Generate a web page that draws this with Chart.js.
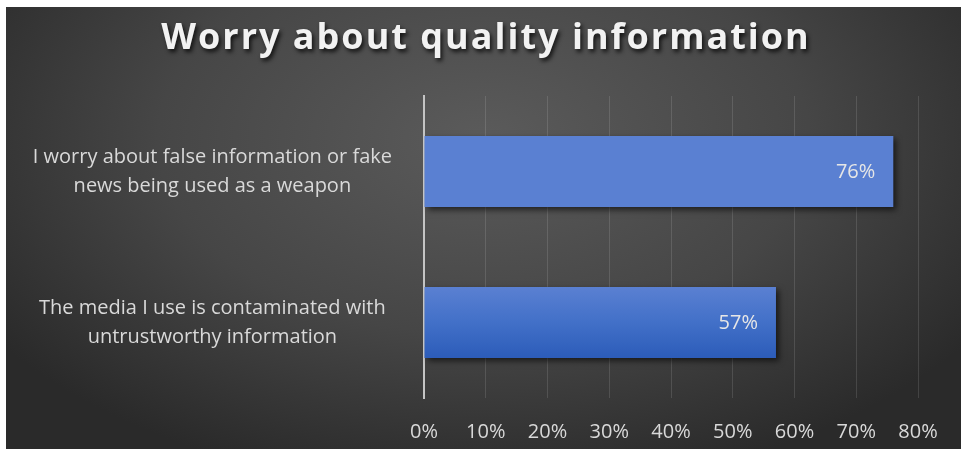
<!DOCTYPE html>
<html>
<head>
<meta charset="utf-8">
<script src="https://cdn.jsdelivr.net/npm/chart.js@4.4.1/dist/chart.umd.min.js"></script>
<style>
  html, body { margin: 0; padding: 0; background: #fff; }
  #frame {
    position: absolute;
    left: 6px; top: 7px;
    width: 955px; height: 442px;
    background: radial-gradient(ellipse 62% 80% at 50% 30%, #5b5b5b 0%, #464646 55%, #2a2a2a 100%);
  }
</style>
</head>
<body>
<div id="frame"><canvas id="chart" width="955" height="442"></canvas></div>
<script>
const chartTitle = 'Worry about quality information';
const categories = [
    ['I worry about false information or fake', 'news being used as a weapon'],
    ['The media I use is contaminated with', 'untrustworthy information']
];
const shares = [76, 57];
const xTicks = [0, 10, 20, 30, 40, 50, 60, 70, 80];

const textColor = '#d9d9d9';
const fontFamily = '"Open Sans", Lato, sans-serif';

// Title with a soft drop shadow, drawn on top of everything
const titlePlugin = {
    id: 'shadowTitle',
    afterDraw(chart) {
        const ctx = chart.ctx;
        ctx.save();
        ctx.font = `bold 36px ${fontFamily}`;
        ctx.letterSpacing = '2px';
        ctx.textAlign = 'center';
        ctx.textBaseline = 'alphabetic';
        ctx.shadowColor = 'rgba(0,0,0,0.75)';
        ctx.shadowBlur = 4;
        ctx.shadowOffsetX = 2;
        ctx.shadowOffsetY = 3;
        ctx.fillStyle = '#f2f2f2';
        ctx.fillText(chartTitle, 480, 42);
        ctx.restore();
    }
};

// Vertical gradient + shadow for each bar, then the value text inside its end
const barStyle = {
    id: 'barStyle',
    beforeDatasetsDraw(chart) {
        const ctx = chart.ctx;
        chart.getDatasetMeta(0).data.forEach(bar => {
            const top = bar.y - bar.height / 2;
            const g = ctx.createLinearGradient(0, top, 0, top + bar.height);
            g.addColorStop(0, '#5a80d2');
            g.addColorStop(0.5, '#4270c8');
            g.addColorStop(1, '#2c5cb9');
            bar.options.backgroundColor = g;
        });
        ctx.save();
        ctx.shadowColor = 'rgba(0,0,0,0.6)';
        ctx.shadowBlur = 6;
        ctx.shadowOffsetX = 3;
        ctx.shadowOffsetY = 3;
    },
    afterDatasetsDraw(chart) {
        const ctx = chart.ctx;
        ctx.restore();
        const values = chart.data.datasets[0].data;
        ctx.save();
        ctx.font = `20px ${fontFamily}`;
        ctx.fillStyle = '#e6e6e6';
        ctx.textAlign = 'right';
        ctx.textBaseline = 'middle';
        chart.getDatasetMeta(0).data.forEach((bar, i) => {
            ctx.fillText(values[i] + '%', bar.x - 18, bar.y + 1);
        });
        ctx.restore();
    }
};

new Chart(document.getElementById('chart'), {
    type: 'bar',
    data: {
        labels: categories,
        datasets: [{
            data: shares,
            backgroundColor: '#4472c4',
            borderWidth: 0,
            barPercentage: 0.47,
            categoryPercentage: 1
        }]
    },
    options: {
        indexAxis: 'y',
        responsive: false,
        animation: false,
        layout: { padding: { top: 89, right: 43, bottom: 0, left: 0 } },
        plugins: {
            legend: { display: false },
            tooltip: { enabled: false }
        },
        scales: {
            x: {
                min: 0,
                max: 80,
                afterBuildTicks: scale => { scale.ticks = xTicks.map(v => ({ value: v })); },
                afterFit: scale => { scale.height = 51; },
                grid: { color: 'rgba(255,255,255,0.12)', lineWidth: 1, drawTicks: false },
                border: { display: false },
                ticks: {
                    color: textColor,
                    padding: 22,
                    font: { family: fontFamily, size: 20 },
                    callback: v => v + '%'
                }
            },
            y: {
                // fixed width; two-line labels shouldn't shrink the plot vertically
                afterFit: scale => {
                    scale.width = 418;
                    scale.paddingTop = 0;
                    scale.paddingBottom = 0;
                },
                grid: { display: false, drawTicks: false },
                border: { display: true, color: '#c4c4c4', width: 2 },
                ticks: {
                    color: textColor,
                    padding: 32,
                    crossAlign: 'center',
                    font: { family: fontFamily, size: 20, lineHeight: 1.45 }
                }
            }
        }
    },
    plugins: [barStyle, titlePlugin]
});
</script>
</body>
</html>
